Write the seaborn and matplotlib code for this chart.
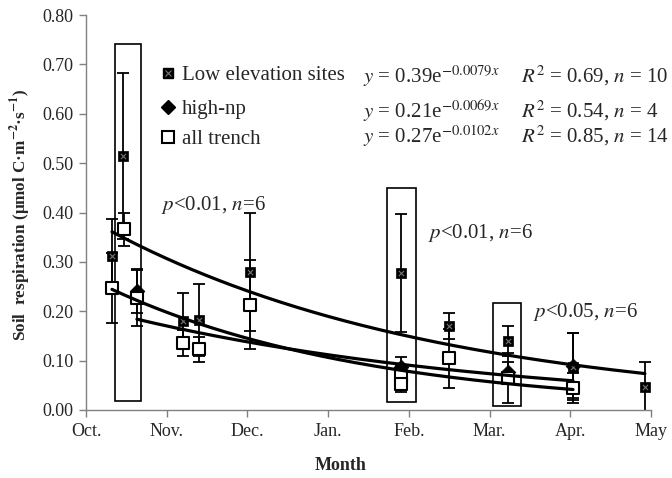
import numpy as np
import pandas as pd
import matplotlib
matplotlib.use("Agg")
import matplotlib.pyplot as plt
import seaborn as sns
from matplotlib.patches import Rectangle

# ---------------- data (x = days since 1 Oct) ----------------
month_labels = ["Oct.", "Nov.", "Dec.", "Jan.", "Feb.", "Mar.", "Apr.", "May"]

low_day = [9.8, 13.9, 36.6, 42.6, 61.8, 118.7, 136.8, 159.1, 183.6, 210.7]
low_val = [0.312, 0.514, 0.180, 0.182, 0.279, 0.277, 0.170, 0.140, 0.088, 0.047]
low_err = [0.075, 0.168, 0.057, 0.073, 0.120, 0.120, 0.026, 0.030, 0.067, 0.050]

hnp_day = [19.2, 118.7, 159.1, 183.6]
hnp_val = [0.241, 0.087, 0.077, 0.090]
hnp_err = [0.044, 0.020, 0.020, 0.065]

tr_day = [9.8, 14.3, 19.2, 36.6, 42.6, 61.8, 118.7, 118.7, 136.8, 159.1, 183.6]
tr_val = [0.247, 0.366, 0.227, 0.136, 0.123, 0.213, 0.069, 0.053, 0.105, 0.065, 0.044]
tr_err = [0.071, 0.033, 0.057, 0.027, 0.025, 0.090, 0.020, 0.017, 0.060, 0.050, 0.030]

# fitted exponential trend lines y = a * exp(b x), shown on the chart
fit_names = ["Low elevation sites", "high-np", "all trench"]
fit_a = [0.39, 0.21, 0.27]
fit_b = [-0.0079, -0.0069, -0.0102]
fit_r2 = ["0.69", "0.54", "0.85"]
fit_n = ["10", "4", "14"]
fit_start = [9.8, 19.2, 9.8]
fit_end = [210.7, 183.6, 183.6]

annot_text = [r"$p$<0.01, $n$=6", r"$p$<0.01, $n$=6", r"$p$<0.05, $n$=6"]

# ---------------- style ----------------
sns.set_style("ticks")
plt.rcParams["font.family"] = ["Liberation Serif", "DejaVu Serif"]
plt.rcParams["mathtext.fontset"] = "stix"

fig = plt.figure(figsize=(6.72, 4.78), dpi=100)
ax = fig.add_axes([86 / 672, 1 - 410 / 478, 565 / 672, 395 / 478])

# highlight boxes
boxes = [(10.9, 0.018, 9.8, 0.723), (113.5, 0.016, 10.9, 0.433), (153.4, 0.008, 10.6, 0.209)]
for (bx, by, bw, bh) in boxes:
    ax.add_patch(Rectangle((bx, by), bw, bh, fill=False, edgecolor="black", lw=1.2, zorder=1))

# error bars
for d, v, e in [(low_day, low_val, low_err), (hnp_day, hnp_val, hnp_err), (tr_day, tr_val, tr_err)]:
    ax.errorbar(d, v, yerr=e, fmt="none", ecolor="black", elinewidth=1.3,
                capsize=4.5, capthick=1.3, zorder=2)

# points
sns.scatterplot(x=low_day, y=low_val, marker="s", s=52, color="black",
                edgecolor="black", linewidth=0.5, ax=ax, zorder=3)
sns.scatterplot(x=low_day, y=low_val, marker="x", s=14, color="#777777",
                linewidth=0.8, ax=ax, zorder=3.1)
sns.scatterplot(x=hnp_day, y=hnp_val, marker="D", s=55, color="black",
                edgecolor="black", ax=ax, zorder=3)
sns.scatterplot(x=tr_day, y=tr_val, marker="s", s=80, color="white",
                edgecolor="black", linewidth=1.5, ax=ax, zorder=3.2)

# trend lines
for a, b, x0, x1 in zip(fit_a, fit_b, fit_start, fit_end):
    xx = np.linspace(x0, x1, 200)
    sns.lineplot(x=xx, y=a * np.exp(b * xx), color="black", lw=2.3, ax=ax, zorder=4)

# annotations
annot_pos = [(28.3, 0.415), (128.9, 0.358), (168.5, 0.198)]
for t, (px, py) in zip(annot_text, annot_pos):
    ax.text(px, py, t, fontsize=15, ha="left", va="center")

# legend-like block
fs = 15
rows_y = [0.853, 0.767, 0.691]
eq_y = [0.853, 0.765, 0.700]
ax.plot([0.145], [rows_y[0]], marker="s", ms=7, color="black", transform=ax.transAxes, clip_on=False)
ax.plot([0.145], [rows_y[0]], marker="x", ms=4, mew=0.8, color="#777777", transform=ax.transAxes, clip_on=False)
ax.plot([0.145], [rows_y[1]], marker="D", ms=7, color="black", transform=ax.transAxes, clip_on=False)
ax.plot([0.145], [rows_y[2]], marker="s", ms=9, mfc="white", mec="black", mew=1.5,
        transform=ax.transAxes, clip_on=False)
for i in range(3):
    ax.text(0.170, rows_y[i], fit_names[i], fontsize=fs, transform=ax.transAxes,
            ha="left", va="center_baseline")
    eq = r"$y$ = %.2fe$^{%s\mathit{x}}$" % (fit_a[i], "%.4f" % fit_b[i])
    ax.text(0.490, eq_y[i], eq, fontsize=fs, transform=ax.transAxes,
            ha="left", va="center_baseline")
    ax.text(0.770, eq_y[i], r"$R^{2}$ = %s, $n$ = %s" % (fit_r2[i], fit_n[i]), fontsize=fs,
            transform=ax.transAxes, ha="left", va="center_baseline")

# axes
ax.set_xlim(0, 213)
ax.set_ylim(0, 0.8)
ax.set_xticks(np.linspace(0, 213, len(month_labels)))
ax.set_xticklabels(month_labels, fontsize=13)
ax.set_yticks(np.arange(0, 0.81, 0.1))
ax.set_yticklabels(["%.2f" % v for v in np.arange(0, 0.81, 0.1)], fontsize=13)
sns.despine(ax=ax)
for s in ["left", "bottom"]:
    ax.spines[s].set_color("#808080")
    ax.spines[s].set_linewidth(1.0)
ax.tick_params(direction="out", length=5, width=1, color="#808080", pad=4)

ax.set_xlabel("Month", fontsize=13, fontweight="bold")
ax.xaxis.set_label_coords(0.451, -0.12)
ax.set_ylabel(r"Soil  respiration (μmol C·m$^{\mathbf{-2}}$·s$^{\mathbf{-1}}$)",
              fontsize=12.3, fontweight="bold")
ax.yaxis.set_label_coords(-0.094, 0.494)

fig.savefig("out.png", dpi=100)
